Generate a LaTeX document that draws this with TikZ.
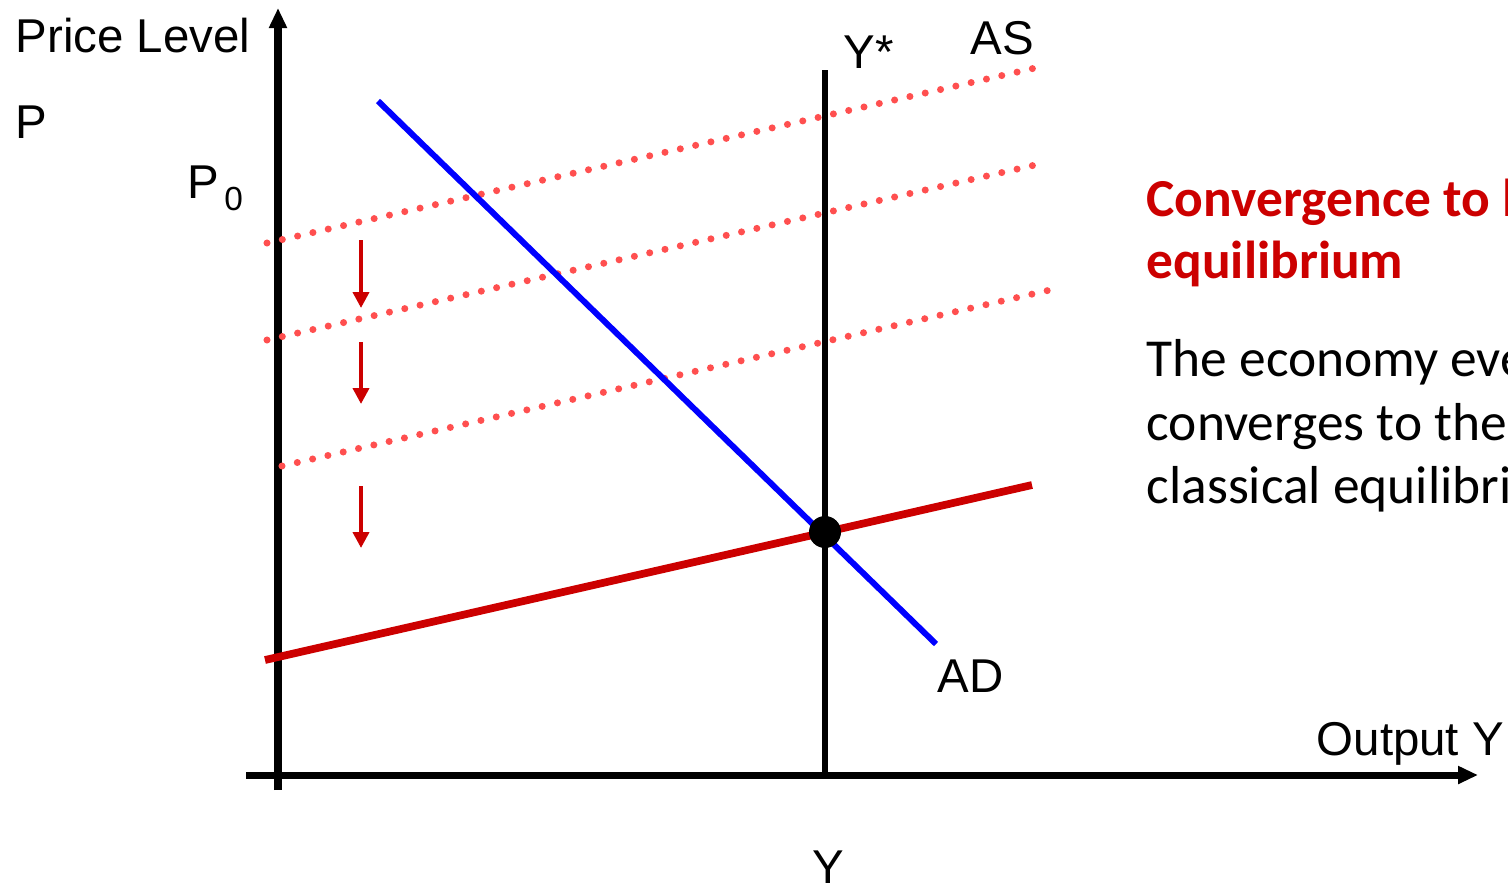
\documentclass[tikz,border=0pt]{standalone}
\usepackage{fontspec}
\setmainfont{Liberation Sans}
\newfontfamily\calibri{Carlito}
\usetikzlibrary{arrows.meta}

\definecolor{asred}{HTML}{CC0000}
\definecolor{dotred}{HTML}{FF4F4F}
\definecolor{adblue}{HTML}{0000FF}

\tikzset{
  axis/.style={line width=2pt, -{Triangle[length=0.2cm, width=0.17cm]}},
  axislabel/.style={anchor=base west, inner sep=0pt, font=\fontsize{13.5}{16}\selectfont},
  textline/.style={anchor=base west, inner sep=0pt, font=\calibri\fontsize{15.2}{18}\selectfont},
  oldas/.style={dotred, line width=2pt, line cap=round, dash pattern=on 0pt off 0.157cm},
  pricefall/.style={asred, line width=1.1pt, -{Triangle[length=0.16cm, width=0.16cm]}},
}

\begin{document}
\begin{tikzpicture}

      \useasboundingbox (0,0) rectangle (15.08,8.82);
      \clip (0,0) rectangle (15.08,8.82);

      % ============================================================
      % Assen
      % ============================================================

      \coordinate (Ybot) at (2.78,0.92);
      \coordinate (Ytop) at (2.78,8.74);
      \coordinate (Xleft) at (2.46,1.07);
      \coordinate (Xright) at (14.78,1.07);

      \draw[axis] (Ybot) -- (Ytop);
      \draw[axis] (Xleft) -- (Xright);

      \node[axislabel] (plevel) at (0.15,8.30) {Price Level};
      \node[axislabel] (pname) at (0.15,7.44) {P};
      \node[axislabel] (pzero) at (1.87,6.84)
        {P\kern0.05cm\raisebox{-0.12cm}{\fontsize{9.5}{11}\selectfont 0}};
      \node[axislabel] (output) at (13.16,1.27) {Output Y};
      \node[axislabel] (ybottom) at (8.12,-0.01) {Y};

      % ============================================================
      % Lange termijn: Y*
      % ============================================================

      \coordinate (Ystop) at (8.25,8.12);
      \coordinate (Ysbot) at (8.25,1.07);
      \draw[line width=1.6pt] (Ystop) -- (Ysbot);
      \node[axislabel] (ystar) at (8.43,8.14) {Y*};

      % ============================================================
      % Verschuivende AS-curven (gestippeld)
      % ============================================================

      \coordinate (AS1a) at (2.67,6.39);
      \coordinate (AS1b) at (10.35,8.14);
      \coordinate (AS2a) at (2.67,5.42);
      \coordinate (AS2b) at (10.35,7.17);
      \coordinate (AS3a) at (2.82,4.16);
      \coordinate (AS3b) at (10.50,5.92);

      \draw[oldas] (AS1a) -- (AS1b);
      \draw[oldas] (AS2a) -- (AS2b);
      \draw[oldas] (AS3a) -- (AS3b);
      \node[axislabel] (asname) at (9.70,8.28) {AS};

      % Pijlen omlaag
      \coordinate (S1a) at (3.61,6.42);
      \coordinate (S1b) at (3.61,5.74);
      \coordinate (S2a) at (3.61,5.40);
      \coordinate (S2b) at (3.61,4.78);
      \coordinate (S3a) at (3.61,3.96);
      \coordinate (S3b) at (3.61,3.34);

      \draw[pricefall] (S1a) -- (S1b);
      \draw[pricefall] (S2a) -- (S2b);
      \draw[pricefall] (S3a) -- (S3b);

      % ============================================================
      % AD en uiteindelijke AS
      % ============================================================

      \coordinate (ADa) at (3.78,7.81);
      \coordinate (ADb) at (9.36,2.38);
      \draw[adblue, line width=1.7pt] (ADa) -- (ADb);
      \node[axislabel] (adname) at (9.37,1.90) {AD};

      \coordinate (ASa) at (2.65,2.22);
      \coordinate (ASb) at (10.32,3.97);
      \draw[asred, line width=2.2pt] (ASa) -- (ASb);

      % Evenwicht
      \node[circle, fill=black, minimum size=0.32cm, inner sep=0pt] (eq) at (8.25,3.50) {};

      % ============================================================
      % Tekst rechts
      % ============================================================

      \node[textline, font=\calibri\bfseries\fontsize{15.2}{18}\selectfont, text=asred]
        (title1) at (11.46,6.66) {Convergence to l};
      \node[textline, font=\calibri\bfseries\fontsize{15.2}{18}\selectfont, text=asred]
        (title2) at (11.46,6.04) {equilibrium};
      \node[textline] (body1) at (11.46,5.06) {The economy eve};
      \node[textline] (body2) at (11.46,4.42) {converges to the};
      \node[textline] (body3) at (11.46,3.79) {classical equilibri};

\end{tikzpicture}
\end{document}
